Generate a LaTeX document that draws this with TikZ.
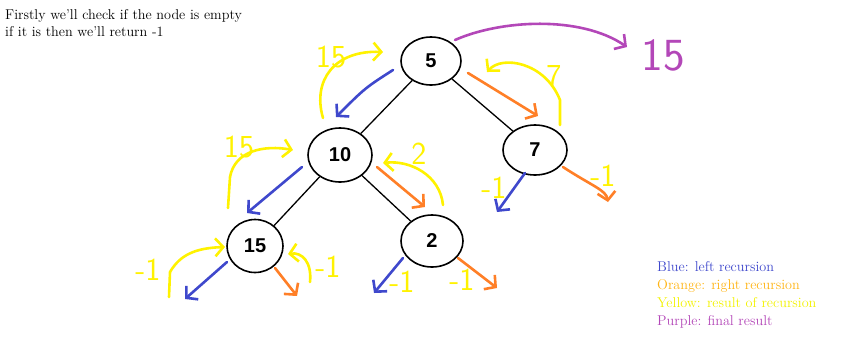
\documentclass[tikz,border=0pt]{standalone}
\usepackage{fontspec}
\usepackage{tikz}
\usetikzlibrary{positioning,shapes.geometric,arrows.meta}

\newfontfamily\treefont{Liberation Sans}

\definecolor{recblue}{HTML}{3F48CC}
\definecolor{recorange}{HTML}{FF7F27}
\definecolor{recyellow}{HTML}{FFF200}
\definecolor{recpurple}{HTML}{B347B8}
\definecolor{legorange}{HTML}{FFB414}
\definecolor{legyellow}{HTML}{F2F200}

\tikzset{
  tnode/.style={draw,line width=1.6pt,ellipse,inner sep=0pt,font=\treefont\bfseries\fontsize{20}{20}\selectfont},
  edge/.style={line width=1.3pt},
  rec/.style={line width=2.6pt,line cap=round,line join=round,-{Straight Barb[length=8pt,width=18pt]}},
  note/.style={recyellow,inner sep=0pt,font=\sffamily\fontsize{32}{32}\selectfont},
  legend/.style={anchor=base west,inner sep=0pt,font=\fontsize{14.2}{16}\selectfont}
}

\begin{document}
\begin{tikzpicture}[x=1pt,y=-1pt]
	\useasboundingbox (0,0) rectangle (862,360);

	% intro text
	\node[anchor=north west,align=left,inner sep=0pt,font=\fontsize{14.2}{17}\selectfont] (intro) at (5,9)
		{Firstly we'll check if the node is empty\\if it is then we'll return -1};

	% tree
	\node[tnode,minimum width=60pt,minimum height=48pt] (n5) at (431,61) {5};
	\node[tnode,minimum width=64pt,minimum height=54pt] (n10) at (340,155) {10};
	\node[tnode,minimum width=64pt,minimum height=50pt] (n7) at (535,150) {7};
	\node[tnode,minimum width=56pt,minimum height=53pt] (n15) at (255,246) {15};
	\node[tnode,minimum width=62pt,minimum height=52pt] (n2) at (432,241) {2};
	\draw[edge] (n5) -- (n10);
	\draw[edge] (n5) -- (n7);
	\draw[edge] (n10) -- (n15);
	\draw[edge] (n10) -- (n2);

	% left recursion
	\draw[rec,recblue] (393,70) .. controls (365,88) .. (336,117);
	\draw[rec,recblue] (302,167) -- (247,213);
	\draw[rec,recblue] (227,262) -- (185,299);
	\draw[rec,recblue] (525,173) -- (497,212);
	\draw[rec,recblue] (403,258) -- (374,293);

	% right recursion
	\draw[rec,recorange] (468,73) -- (538,116);
	\draw[rec,recorange] (377,167) -- (425,207);
	\draw[rec,recorange] (275,268) -- (297,296);
	\draw[rec,recorange] (563,167) .. controls (592,186) and (606,190) .. (608,202);
	\draw[rec,recorange] (458,258) -- (497,288);

	% results
	\draw[rec,recyellow] (323,118) .. controls (312,80) and (335,50) .. (383,52);
	\draw[rec,recyellow] (560,125) -- (560,100) .. controls (545,62) and (502,55) .. (487,72);
	\draw[rec,recyellow] (228,208) -- (230,177) .. controls (235,150) and (265,145) .. (293,150);
	\draw[rec,recyellow] (443,205) .. controls (440,175) and (410,160) .. (383,163);
	\draw[rec,recyellow] (169,297) -- (170,272) .. controls (180,255) and (195,248) .. (225,247);
	\draw[rec,recyellow] (310,282) .. controls (312,262) and (302,252) .. (288,254);

	\node[note] (r5) at (331,57) {15};
	\node[note] (r7) at (554,76) {7};
	\node[note] (r10) at (239,147) {15};
	\node[note] (r2) at (419,154) {2};
	\node[note] (e7l) at (494,188) {-1};
	\node[note] (e7r) at (603,176) {-1};
	\node[note] (e15l) at (148,270) {-1};
	\node[note] (e15r) at (328,267) {-1};
	\node[note] (e2l) at (402,282) {-1};
	\node[note] (e2r) at (462,280) {-1};

	% final result
	\draw[rec,recpurple] (455,40) .. controls (500,20) and (580,15) .. (627,47);
	\node[note,recpurple,font=\sffamily\fontsize{46}{46}\selectfont] (final) at (663,55) {15};

	% legend
	\node[legend,recblue] (lblue) at (657,271) {Blue: left recursion};
	\node[legend,legorange] (lorange) at (657,289) {Orange: right recursion};
	\node[legend,legyellow] (lyellow) at (657,307) {Yellow: result of recursion};
	\node[legend,recpurple] (lpurple) at (657,325) {Purple: final result};
\end{tikzpicture}
\end{document}
